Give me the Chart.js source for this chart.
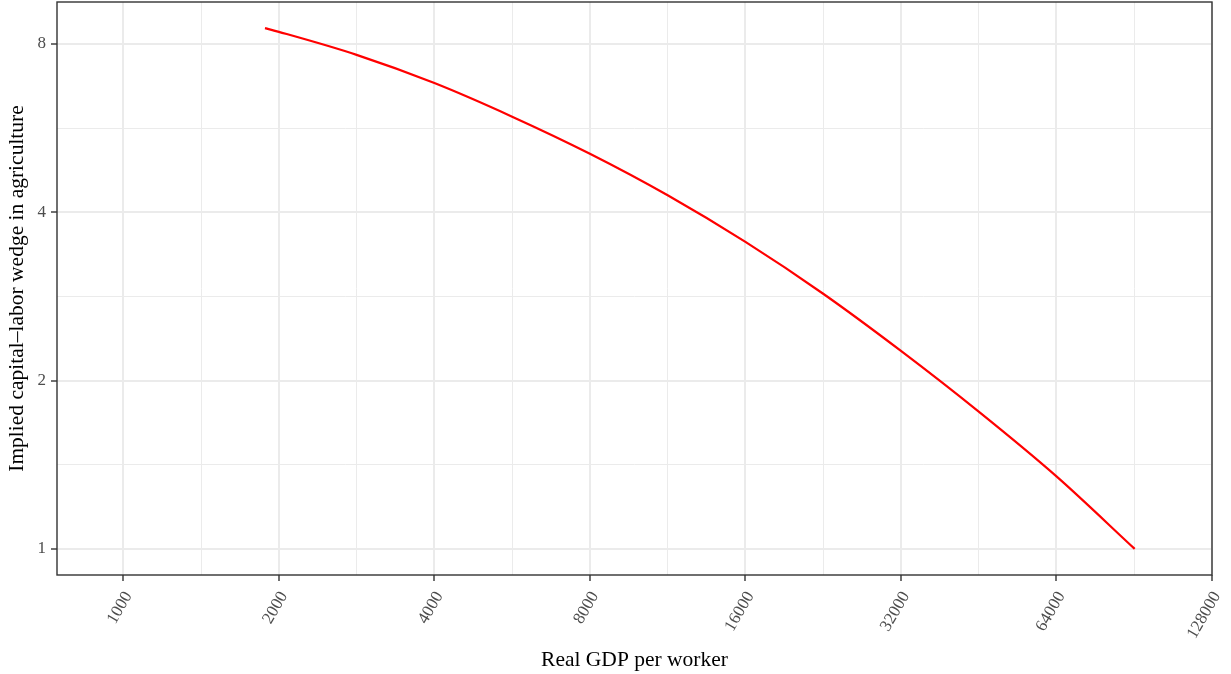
<!DOCTYPE html>
<html>
<head>
<meta charset="utf-8">
<script src="https://cdn.jsdelivr.net/npm/chart.js@4/dist/chart.umd.min.js"></script>
<style>
  html, body { margin: 0; padding: 0; background: #ffffff; }
  #wrap { width: 1231px; height: 674px; }
</style>
</head>
<body>
<div id="wrap"><canvas id="chart" width="1231" height="674"></canvas></div>
<script>
// Real GDP per worker (x) and the implied capital–labor wedge in agriculture (y)
const gdpPerWorker = [1880, 2000, 2828, 4000, 5657, 8000, 11314, 16000, 22627, 32000, 45255, 64000, 90700];
const wedge        = [8.54, 8.41, 7.65, 6.81, 5.93, 5.09, 4.29, 3.54, 2.86, 2.26, 1.76, 1.348, 1.00];

// Labelled breaks on both log2 axes
const xBreaks = [1000, 2000, 4000, 8000, 16000, 32000, 64000, 128000];
const yBreaks = [1, 2, 4, 8];

const xLimits = [744, 128000];
const yLimits = [0.898, 9.51];

// Minor breaks sit halfway between majors on the log scale
function withMinor(breaks, lo, hi) {
  const all = [breaks[0] / Math.SQRT2];
  breaks.forEach(b => { all.push(b); all.push(b * Math.SQRT2); });
  return all.filter(v => v >= lo && v <= hi * 1.0001).sort((a, b) => a - b);
}

const isMajor = (v, breaks) => breaks.some(b => Math.abs(b - v) / b < 1e-6);

const GRID = '#ebebeb';
const INK = '#333333';
const TICK_TEXT = '#4d4d4d';
const SERIF = '"Liberation Serif", "DejaVu Serif", serif';

Chart.defaults.font.family = SERIF;

const panelBorder = {
  id: 'panelBorder',
  afterDraw(chart) {
    const { ctx, chartArea: a } = chart;
    ctx.save();
    ctx.strokeStyle = INK;
    ctx.lineWidth = 1.4;
    ctx.strokeRect(a.left, a.top, a.right - a.left, a.bottom - a.top);
    ctx.restore();
  }
};

function gridStyle(breaks) {
  return {
    color: GRID,
    lineWidth: ctx => (ctx.tick && isMajor(ctx.tick.value, breaks)) ? 2 : 1,
    tickColor: ctx => (ctx.tick && isMajor(ctx.tick.value, breaks)) ? INK : 'rgba(0,0,0,0)',
    tickWidth: 1.4,
    tickLength: 6,
    drawTicks: true
  };
}

// Keep the plot panel edges where the axis boxes put them
function noEdgePadding(s) {
  s.paddingTop = 0; s.paddingBottom = 0; s.paddingLeft = 0; s.paddingRight = 0;
}

new Chart(document.getElementById('chart'), {
  type: 'line',
  data: {
    datasets: [{
      data: gdpPerWorker.map((x, i) => ({ x, y: wedge[i] })),
      borderColor: '#ff0000',
      borderWidth: 2.2,
      pointRadius: 0,
      fill: false,
      cubicInterpolationMode: 'monotone'
    }]
  },
  plugins: [panelBorder],
  options: {
    responsive: false,
    animation: false,
    events: [],
    layout: { padding: { top: 2, right: 19, bottom: 0, left: 0 } },
    plugins: { legend: { display: false }, tooltip: { enabled: false } },
    scales: {
      x: {
        type: 'logarithmic',
        min: xLimits[0],
        max: xLimits[1],
        border: { display: false },
        grid: gridStyle(xBreaks),
        afterBuildTicks: s => { s.ticks = withMinor(xBreaks, xLimits[0], xLimits[1]).map(v => ({ value: v })); },
        afterFit: s => { s.height = 99; noEdgePadding(s); },
        ticks: {
          autoSkip: false,
          minRotation: 60,
          maxRotation: 60,
          padding: 7,
          labelOffset: 5,
          color: TICK_TEXT,
          font: { size: 17, family: SERIF },
          callback: v => isMajor(v, xBreaks) ? String(Math.round(v)) : ''
        },
        title: {
          display: true,
          text: 'Real GDP per worker',
          color: '#000000',
          font: { size: 21.5, family: SERIF },
          padding: { top: 0, bottom: 1 }
        }
      },
      y: {
        type: 'logarithmic',
        min: yLimits[0],
        max: yLimits[1],
        border: { display: false },
        grid: gridStyle(yBreaks),
        afterBuildTicks: s => { s.ticks = withMinor(yBreaks, yLimits[0], yLimits[1]).map(v => ({ value: v })); },
        afterFit: s => { s.width = 57; noEdgePadding(s); },
        ticks: {
          autoSkip: false,
          padding: 5,
          color: TICK_TEXT,
          font: { size: 17, family: SERIF },
          callback: v => isMajor(v, yBreaks) ? String(Math.round(v)) : ''
        },
        title: {
          display: true,
          text: 'Implied capital–labor wedge in agriculture',
          color: '#000000',
          font: { size: 21.5, family: SERIF },
          padding: { top: 4, bottom: 0 }
        }
      }
    }
  }
});
</script>
</body>
</html>
